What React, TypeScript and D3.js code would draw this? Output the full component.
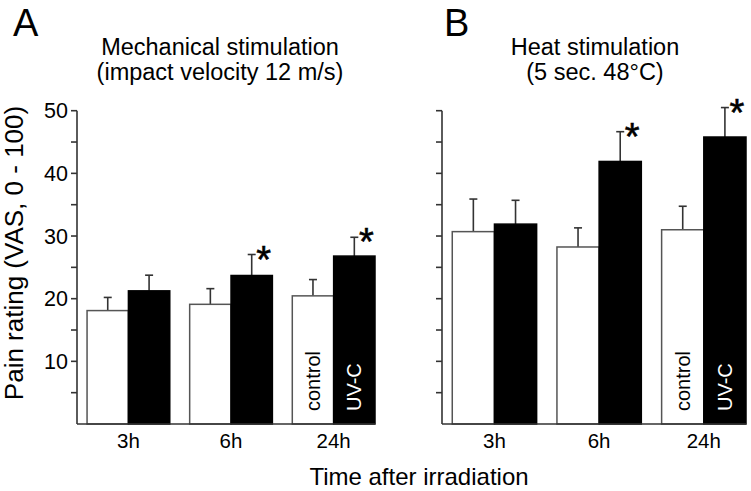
import React from 'react';
import * as d3 from 'd3';

const groups = ['3h', '6h', '24h'];
const series = ['control', 'UV-C'];

const mechControl = [18.1, 19.1, 20.45];
const mechControlErr = [2.1, 2.5, 2.6];
const mechUVC = [21.25, 23.7, 26.8];
const mechUVCErr = [2.5, 3.35, 3.0];
const mechSig = [false, true, true];

const heatControl = [30.7, 28.25, 31.0];
const heatControlErr = [5.2, 3.05, 3.75];
const heatUVC = [31.9, 41.9, 45.8];
const heatUVCErr = [3.8, 4.75, 4.7];
const heatSig = [false, true, true];

const majorTicks = [10, 20, 30, 40, 50];
const minorTicks = [5, 15, 25, 35, 45];

const FONT = 'Arial, "Liberation Sans", Helvetica, sans-serif';
const AXIS = '#333';

type PanelProps = {
  x0: number;
  x1: number;
  letter: string;
  letterX: number;
  titleX: number;
  title1: string;
  title2: string;
  control: number[];
  controlErr: number[];
  uvc: number[];
  uvcErr: number[];
  sig: boolean[];
  showLabels: boolean;
};

const y = d3.scaleLinear().domain([0, 50]).range([424, 110.7]);

function Panel(p: PanelProps) {
  const x = d3
    .scaleBand<string>()
    .domain(groups)
    .range([p.x0, p.x1])
    .paddingInner(0.194)
    .paddingOuter(0.049)
    .align(1);
  const xs = d3.scaleBand<string>().domain(series).range([0, x.bandwidth()]);
  const bw = xs.bandwidth();
  const capW = 4;
  const allTicks = [...minorTicks, ...majorTicks];
  const starSize = 38;
  return (
    <g>
      <text x={p.letterX} y={35.5} fontSize={38} fontFamily={FONT}>{p.letter}</text>
      <text x={p.titleX} y={55} fontSize={23.5} textAnchor="middle" fontFamily={FONT}>{p.title1}</text>
      <text x={p.titleX} y={80} fontSize={23.5} textAnchor="middle" fontFamily={FONT}>{p.title2}</text>
      {groups.map((g, i) => {
        const gx = x(g)!;
        const items = [
          { s: 'control', v: p.control[i], e: p.controlErr[i], fill: '#fff' },
          { s: 'UV-C', v: p.uvc[i], e: p.uvcErr[i], fill: '#000' },
        ];
        return (
          <g key={g}>
            {items.map((it) => {
              const bx = gx + xs(it.s)!;
              const cx = bx + bw / 2;
              return (
                <g key={it.s}>
                  <line x1={cx} x2={cx} y1={y(it.v)} y2={y(it.v + it.e)} stroke={AXIS} strokeWidth={1.6} />
                  <line x1={cx - capW} x2={cx + capW} y1={y(it.v + it.e)} y2={y(it.v + it.e)} stroke={AXIS} strokeWidth={1.6} />
                  <rect x={bx} y={y(it.v)} width={bw} height={y(0) - y(it.v)} fill={it.fill} stroke={it.fill === '#000' ? '#000' : '#555'} strokeWidth={1.5} />
                </g>
              );
            })}
            {p.sig[i] && (
              <text
                x={gx + xs('UV-C')! + bw / 2 + 12}
                y={y(p.uvc[i] + p.uvcErr[i]) - 4 + 0.58 * starSize}
                fontSize={starSize}
                textAnchor="middle"
                fontFamily={FONT}
                stroke="#000"
                strokeWidth={0.6}
              >
                *
              </text>
            )}
            <text x={gx + x.bandwidth() / 2} y={448} fontSize={20.5} textAnchor="middle" fontFamily={FONT}>{g}</text>
          </g>
        );
      })}
      {(() => {
        const g = groups[groups.length - 1];
        const gx = x(g)!;
        const cxC = gx + xs('control')! + bw / 2 + 7;
        const cxU = gx + xs('UV-C')! + bw / 2 + 7;
        return (
          <g>
            <text transform={`translate(${cxC},411) rotate(-90)`} fontSize={20} fontFamily={FONT} fill="#000">control</text>
            <text transform={`translate(${cxU},411) rotate(-90)`} fontSize={20} fontFamily={FONT} fill="#fff">UV-C</text>
          </g>
        );
      })()}
      <line x1={p.x0} x2={p.x0} y1={y(50)} y2={y(0)} stroke={AXIS} strokeWidth={1.6} />
      <line x1={p.x0} x2={p.x1} y1={y(0)} y2={y(0)} stroke={AXIS} strokeWidth={1.6} />
      {allTicks.map((t) => (
        <line key={t} x1={p.x0 - 6} x2={p.x0} y1={y(t)} y2={y(t)} stroke={AXIS} strokeWidth={1.6} />
      ))}
      {p.showLabels &&
        majorTicks.map((t) => (
          <text key={t} x={p.x0 - 9} y={y(t)} dy="0.36em" fontSize={21.5} textAnchor="end" fontFamily={FONT}>{t}</text>
        ))}
    </g>
  );
}

export default function App() {
  return (
    <svg width={751} height={491} style={{ position: 'absolute', left: 0, top: 0, background: '#fff' }}>
      <rect width={751} height={491} fill="#fff" />
      <Panel
        x0={77}
        x1={375}
        letter="A"
        letterX={13}
        titleX={220}
        title1="Mechanical stimulation"
        title2="(impact velocity 12 m/s)"
        control={mechControl}
        controlErr={mechControlErr}
        uvc={mechUVC}
        uvcErr={mechUVCErr}
        sig={mechSig}
        showLabels={true}
      />
      <Panel
        x0={442}
        x1={746}
        letter="B"
        letterX={444}
        titleX={595}
        title1="Heat stimulation"
        title2="(5 sec. 48°C)"
        control={heatControl}
        controlErr={heatControlErr}
        uvc={heatUVC}
        uvcErr={heatUVCErr}
        sig={heatSig}
        showLabels={false}
      />
      <text transform="translate(23,253) rotate(-90)" fontSize={26} textAnchor="middle" fontFamily={FONT}>
        Pain rating (VAS, 0 - 100)
      </text>
      <text x={419} y={485} fontSize={24} textAnchor="middle" fontFamily={FONT}>Time after irradiation</text>
    </svg>
  );
}
